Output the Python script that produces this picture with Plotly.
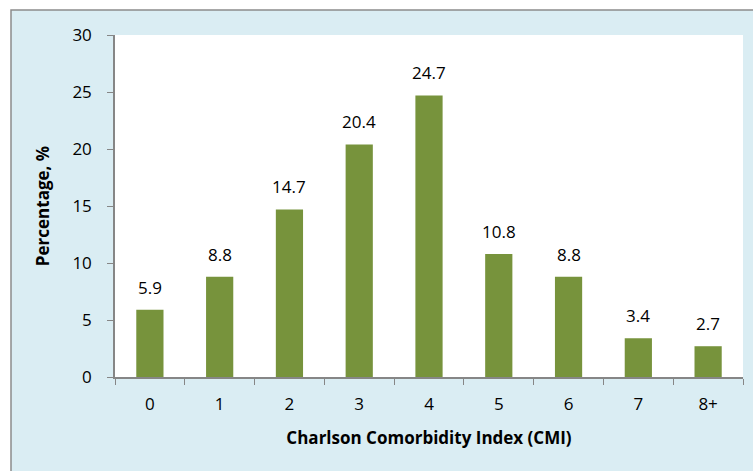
import plotly.graph_objects as go

categories = ["0", "1", "2", "3", "4", "5", "6", "7", "8+"]
values = [5.9, 8.8, 14.7, 20.4, 24.7, 10.8, 8.8, 3.4, 2.7]
y_ticks = [0, 5, 10, 15, 20, 25, 30]

W, H = 753, 471
L, R, T, B = 115, 10, 35, 94
pw, ph = W - L - R, H - T - B

FONT = "Open Sans"
FS = 17
BAR = "#77933c"
FRAME_BG = "#daedf3"

fig = go.Figure()
fig.add_trace(go.Bar(
    x=categories, y=values, marker=dict(color=BAR, line=dict(width=0)),
    width=0.39, hoverinfo="x+y",
))

for c, v in zip(categories, values):
    fig.add_annotation(x=c, y=v, text=f"{v}", showarrow=False, yanchor="bottom",
                       yshift=9, font=dict(family=FONT, size=FS, color="#000000"))

# outer frame and white plot area
fig.add_shape(type="rect", xref="paper", yref="paper",
              x0=(11 - L) / pw, x1=1.3, y0=-0.5, y1=(H - B - 10) / ph,
              fillcolor=FRAME_BG, line=dict(color="#8c8c8c", width=1.5), layer="below")
fig.add_shape(type="rect", xref="paper", yref="paper", x0=0, x1=1, y0=0, y1=1,
              fillcolor="#ffffff", line=dict(width=0), layer="below")

fig.update_layout(
    width=W, height=H, margin=dict(l=L, r=R, t=T, b=B, autoexpand=False),
    paper_bgcolor="#ffffff", plot_bgcolor="#ffffff",
    showlegend=False, bargap=0.61,
    font=dict(family=FONT, size=FS, color="#000000"),
)
fig.update_xaxes(
    automargin=False,
    showline=True, linecolor="#868686", linewidth=1.5,
    ticks="outside", ticklen=6, tickcolor="#868686", tickson="boundaries",
    tickfont=dict(family=FONT, size=FS), ticklabelstandoff=11,
    title=dict(text="<b>Charlson Comorbidity Index (CMI)</b>", font=dict(family=FONT, size=FS), standoff=18),
    showgrid=False, zeroline=False,
)
fig.update_yaxes(
    automargin=False,
    range=[0, 30], tickvals=y_ticks, showline=True, linecolor="#868686", linewidth=1.5,
    ticks="outside", ticklen=6, tickcolor="#868686",
    tickfont=dict(family=FONT, size=FS), ticklabelstandoff=12,
    title=dict(text="<b>Percentage, %</b>", font=dict(family=FONT, size=FS), standoff=18),
    showgrid=False, zeroline=False,
)

fig.write_html("out.html", config={"displayModeBar": False},
               post_script="document.body.style.margin='0';document.body.style.overflow='hidden';")
